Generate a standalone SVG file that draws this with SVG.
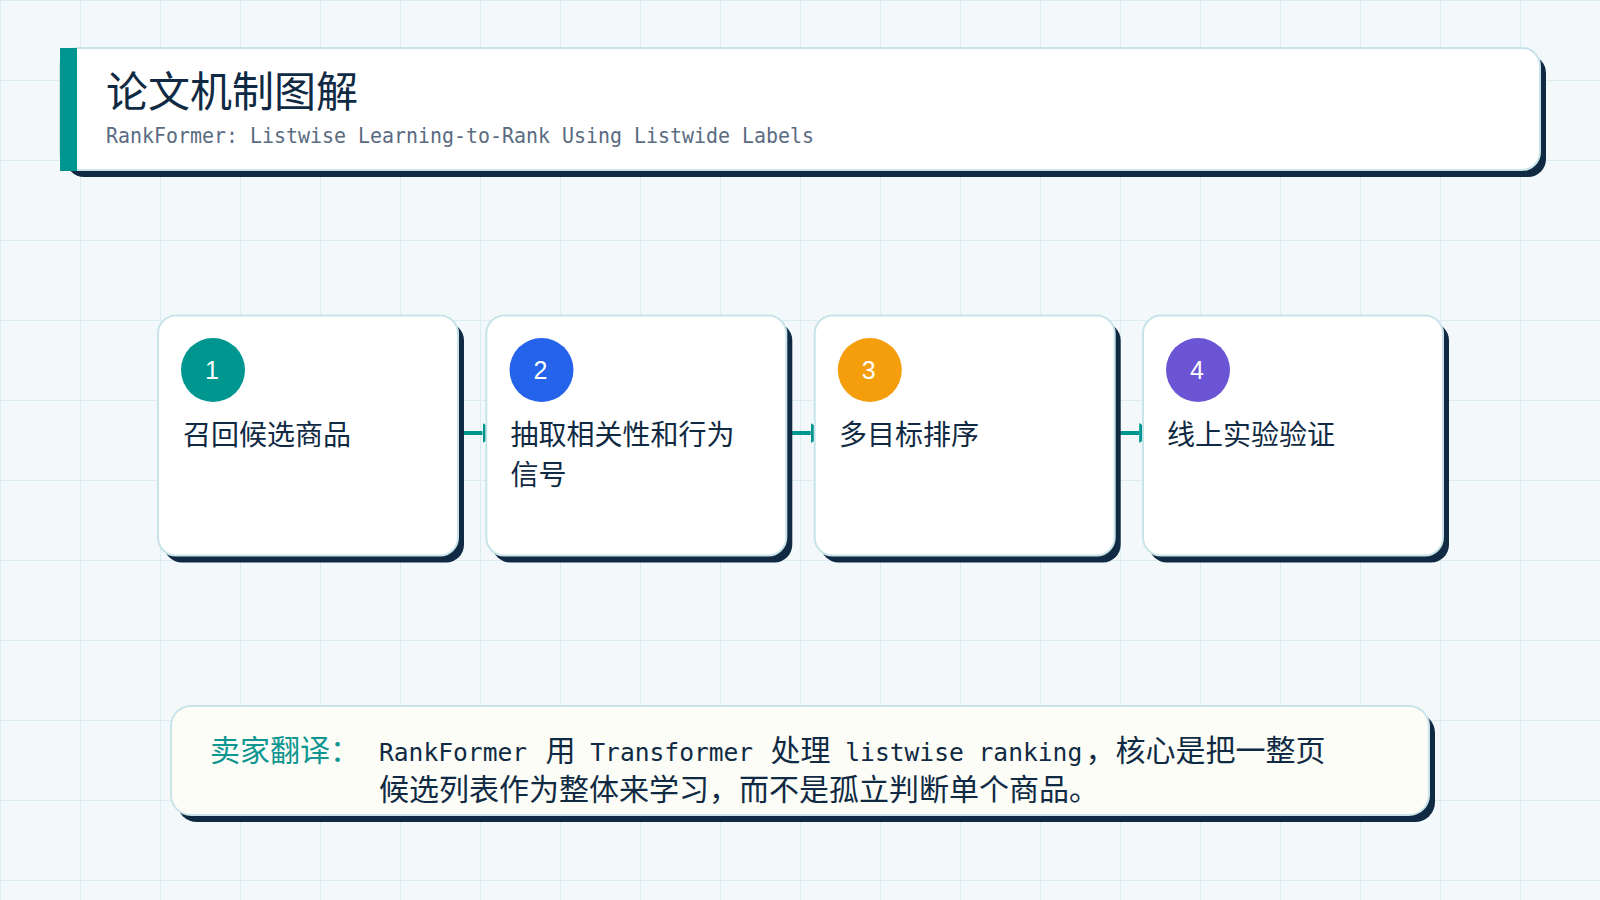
<svg xmlns="http://www.w3.org/2000/svg" width="1600" height="900" viewBox="0 0 1600 900">
  <defs>
    <pattern id="grid" width="80" height="80" patternUnits="userSpaceOnUse">
      <path d="M0,0 H80 M0,0 V80" fill="none" stroke="#dcedf2" stroke-width="2"/>
    </pattern>
    <marker id="arrow" markerUnits="userSpaceOnUse" markerWidth="16" markerHeight="20" refX="0" refY="10" orient="auto">
      <path d="M0,0 L16,10 L0,20 z" fill="#009690"/>
    </marker>
  </defs>
  <style>
    .shadow { fill: #102a43; }
    .panel { fill: #ffffff; stroke: #c8e4e8; stroke-width: 2; }
    .note { fill: #fcfdf7; stroke: #c8e4e8; stroke-width: 2; }
    .cjk { font-family: "Noto Sans CJK SC", "Noto Sans", sans-serif; fill: #102a43; }
    .title { font-size: 42px; }
    .sub { font-family: "DejaVu Sans Mono", "Liberation Mono", monospace; font-size: 21px; fill: #5a6b82; }
    .label { font-size: 28px; }
    .num { font-family: "Liberation Sans", Arial, sans-serif; font-size: 25px; fill: #ffffff; text-anchor: middle; }
    .body { font-size: 30px; }
    .conn { stroke: #009690; stroke-width: 4; fill: none; }
  </style>

  <rect x="0" y="0" width="1600" height="900" fill="#f3f9fb"/>
  <rect x="0" y="0" width="1600" height="900" fill="url(#grid)"/>

  <g id="header">
    <rect class="shadow" x="66" y="55" width="1480" height="122" rx="18"/>
    <rect class="panel" x="60" y="48" width="1480" height="122" rx="18"/>
    <rect x="60" y="48" width="17" height="123" fill="#009690"/>
    <text class="cjk title" x="106" y="107">论文机制图解</text>
    <text class="sub" x="106" y="143" textLength="708" lengthAdjust="spacingAndGlyphs">RankFormer: Listwise Learning-to-Rank Using Listwide Labels</text>
  </g>

  <g id="connectors">
    <line class="conn" x1="458" y1="433" x2="482.5" y2="433" marker-end="url(#arrow)"/>
    <line class="conn" x1="786.3" y1="433" x2="810.8" y2="433" marker-end="url(#arrow)"/>
    <line class="conn" x1="1114.7" y1="433" x2="1139.2" y2="433" marker-end="url(#arrow)"/>
  </g>

  <g id="step1">
    <rect class="shadow" x="164" y="322.5" width="300" height="240" rx="18"/>
    <rect class="panel" x="158" y="315.5" width="300" height="240" rx="18"/>
    <circle cx="213" cy="370" r="32" fill="#009690"/>
    <text class="num" x="212" y="378.5">1</text>
    <text class="cjk label" x="183" y="445">召回候选商品</text>
  </g>

  <g id="step2">
    <rect class="shadow" x="492.3" y="322.5" width="300" height="240" rx="18"/>
    <rect class="panel" x="486.3" y="315.5" width="300" height="240" rx="18"/>
    <circle cx="541.5" cy="370" r="32" fill="#2563eb"/>
    <text class="num" x="540.5" y="378.5">2</text>
    <text class="cjk label" x="510.5" y="445">抽取相关性和行为</text>
    <text class="cjk label" x="510.5" y="485">信号</text>
  </g>

  <g id="step3">
    <rect class="shadow" x="820.7" y="322.5" width="300" height="240" rx="18"/>
    <rect class="panel" x="814.7" y="315.5" width="300" height="240" rx="18"/>
    <circle cx="869.8" cy="370" r="32" fill="#f59e0b"/>
    <text class="num" x="868.8" y="378.5">3</text>
    <text class="cjk label" x="839" y="445">多目标排序</text>
  </g>

  <g id="step4">
    <rect class="shadow" x="1149" y="322.5" width="300" height="240" rx="18"/>
    <rect class="panel" x="1143" y="315.5" width="300" height="240" rx="18"/>
    <circle cx="1198" cy="370" r="32" fill="#6b55d4"/>
    <text class="num" x="1197" y="378.5">4</text>
    <text class="cjk label" x="1167" y="445">线上实验验证</text>
  </g>

  <g id="note">
    <rect class="shadow" x="177" y="713" width="1258" height="109" rx="20"/>
    <rect class="note" x="171" y="706" width="1258" height="109" rx="20"/>
    <text class="cjk body" x="210" y="761" style="fill:#0f9690">卖家翻译：</text>
    <text class="cjk body" x="379" y="761"><tspan font-family="DejaVu Sans Mono, Liberation Mono, monospace" font-size="24.6">RankFormer </tspan><tspan x="545.5">用</tspan><tspan font-family="DejaVu Sans Mono, Liberation Mono, monospace" font-size="24.6"> Transformer </tspan><tspan x="770.5">处理</tspan><tspan font-family="DejaVu Sans Mono, Liberation Mono, monospace" font-size="24.6"> listwise ranking</tspan><tspan x="1085.5">，核心是把一整页</tspan></text>
    <text class="cjk body" x="379" y="800">候选列表作为整体来学习，而不是孤立判断单个商品。</text>
  </g>
</svg>
